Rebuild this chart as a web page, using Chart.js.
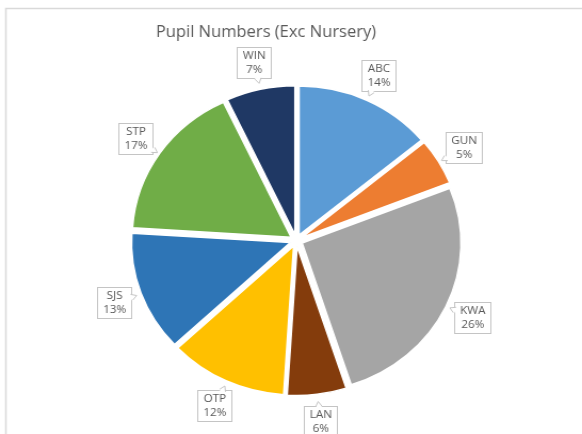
<!DOCTYPE html>
<html>
<head>
<meta charset="utf-8">
<script src="https://cdn.jsdelivr.net/npm/chart.js@4"></script>
<style>
  html, body { margin: 0; padding: 0; background: #fff; overflow: hidden; }
  /* the source screenshot is a little wider than tall, so stretch the canvas the same way */
  #wrap { width: 546px; height: 434px; transform: scaleX(1.066); transform-origin: 0 0; }
</style>
</head>
<body>
<div id="wrap"><canvas id="pie" width="546" height="434"></canvas></div>
<script>
const schools = ['ABC', 'GUN', 'KWA', 'LAN', 'OTP', 'SJS', 'STP', 'WIN'];
const pupils = [14, 5, 26, 6, 12, 13, 17, 7];
const sliceColours = ['#5b9bd5', '#ed7d31', '#a5a5a5', '#843c0c', '#ffc000', '#2e75b6', '#70ad47', '#1f3864'];
const chartTitle = 'Pupil Numbers (Exc Nursery)';

const total = pupils.reduce((a, b) => a + b, 0);
const explode = 6;
const textGrey = '#595959';

// frame + title
const framePlugin = {
  id: 'frame',
  beforeDraw(chart) {
    const ctx = chart.ctx;
    ctx.save();
    ctx.strokeStyle = '#d9d9d9';
    ctx.lineWidth = 1.5;
    ctx.strokeRect(5.5, 8.5, 600, 500);
    ctx.restore();
  },
  afterDraw(chart) {
    const ctx = chart.ctx;
    ctx.save();
    ctx.fillStyle = textGrey;
    ctx.font = '15.5px "Open Sans"';
    ctx.textAlign = 'center';
    ctx.textBaseline = 'middle';
    ctx.fillText(chartTitle, 249.5, 33);
    ctx.restore();
  }
};

// move every slice out along its bisector by the same distance (excel style explode)
const explodePlugin = {
  id: 'explode',
  beforeDatasetDraw(chart, args) {
    const ctx = chart.ctx;
    args.meta.data.forEach(arc => {
      const mid = (arc.startAngle + arc.endAngle) / 2;
      ctx.save();
      ctx.translate(Math.cos(mid) * explode, Math.sin(mid) * explode);
      arc.draw(ctx, chart.chartArea);
      ctx.restore();
    });
    return false;
  }
};

const calloutPlugin = {
  id: 'callouts',
  afterDatasetsDraw(chart) {
    const ctx = chart.ctx;
    const meta = chart.getDatasetMeta(0);
    ctx.save();
    ctx.font = '11px "Open Sans"';
    ctx.textAlign = 'center';
    ctx.textBaseline = 'middle';
    ctx.lineWidth = 1;
    meta.data.forEach((arc, i) => {
      const mid = (arc.startAngle + arc.endAngle) / 2;
      const dist = arc.outerRadius + 33;
      const cx = arc.x + Math.cos(mid) * dist;
      const cy = arc.y + Math.sin(mid) * dist;
      const pct = Math.round(pupils[i] / total * 100) + '%';
      const w = Math.round(Math.max(ctx.measureText(schools[i]).width, ctx.measureText(pct).width) + 10);
      const h = 31;
      const x0 = Math.round(cx - w / 2) + 0.5, y0 = Math.round(cy - h / 2) + 0.5;

      ctx.fillStyle = '#fff';
      ctx.strokeStyle = '#c4c4c4';
      ctx.fillRect(x0, y0, w, h);
      ctx.strokeRect(x0, y0, w, h);

      // little tail pointing back at the slice
      const ux = -Math.cos(mid), uy = -Math.sin(mid);
      const t = Math.min((w / 2) / Math.max(Math.abs(ux), 1e-6), (h / 2) / Math.max(Math.abs(uy), 1e-6));
      const ex = x0 + w / 2 + ux * t, ey = y0 + h / 2 + uy * t;
      const ax = ex - uy * 3, ay = ey + ux * 3;
      const bx = ex + uy * 3, by = ey - ux * 3;
      const tx = ex + ux * 5, ty = ey + uy * 5;
      ctx.beginPath();
      ctx.moveTo(ax - ux, ay - uy);
      ctx.lineTo(tx, ty);
      ctx.lineTo(bx - ux, by - uy);
      ctx.closePath();
      ctx.fill();
      ctx.beginPath();
      ctx.moveTo(ax, ay);
      ctx.lineTo(tx, ty);
      ctx.lineTo(bx, by);
      ctx.stroke();

      ctx.fillStyle = textGrey;
      ctx.fillText(schools[i], x0 + w / 2, y0 + h / 2 - 7);
      ctx.fillText(pct, x0 + w / 2, y0 + h / 2 + 7);
    });
    ctx.restore();
  }
};

new Chart(document.getElementById('pie').getContext('2d'), {
  type: 'pie',
  data: {
    labels: schools,
    datasets: [{
      data: pupils,
      backgroundColor: sliceColours,
      borderColor: '#fff',
      borderWidth: 1.5
    }]
  },
  options: {
    responsive: false,
    animation: false,
    radius: 149,
    layout: { padding: { top: 50, bottom: 3, left: 10, right: 0 } },
    plugins: {
      legend: { display: false },
      title: { display: false },
      tooltip: { enabled: false }
    }
  },
  plugins: [framePlugin, explodePlugin, calloutPlugin]
});
</script>
</body>
</html>
